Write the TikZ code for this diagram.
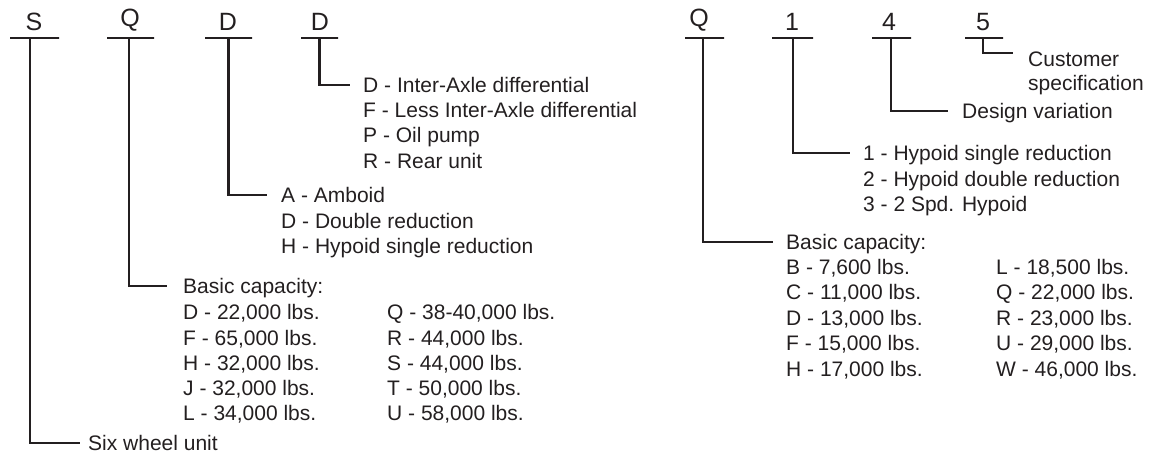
\documentclass[tikz,border=0pt]{standalone}
\usepackage{fontspec}
\setmainfont{Liberation Sans}
\definecolor{ink}{RGB}{35,31,32}
\begin{document}
\begin{tikzpicture}[x=1pt,y=-1pt,
  every node/.style={text=ink},
  txt/.style={anchor=west,inner sep=0pt,text height=15pt,text depth=0pt,font=\fontsize{21}{25}\selectfont},
  letter/.style={anchor=south,inner sep=0pt,font=\fontsize{25}{30}\selectfont},
  bar/.style={draw=ink,line width=2.3pt,inner sep=0pt,minimum height=0pt,text height=0pt,text depth=0pt},
  conn/.style={draw=ink,line width=2.3pt}]
\useasboundingbox (0,0) rectangle (1157,454);
% ---------- left code S Q D D
\node[letter] (lS) at (34,31) {S};
\node[bar,minimum width=49pt] (bS) at (34.5,38) {};
\node[letter] (lQ) at (130,31) {Q};
\node[bar,minimum width=47pt] (bQ) at (130.5,38) {};
\node[letter] (lD1) at (228,31) {D};
\node[bar,minimum width=47pt] (bD1) at (228.5,38) {};
\node[letter] (lD2) at (320,31) {D};
\node[bar,minimum width=37pt] (bD2) at (319.5,38) {};
% texts
\node[txt] (six) at (88,443) {Six wheel unit};
\node[txt] (bc1) at (183,286) {Basic capacity:};
\node[txt] at (183,312) {D - 22,000 lbs.};
\node[txt] at (183,337.5) {F - 65,000 lbs.};
\node[txt] at (183,363) {H - 32,000 lbs.};
\node[txt] at (183,388) {J - 32,000 lbs.};
\node[txt] at (183,413) {L - 34,000 lbs.};
\node[txt] at (387,312) {Q - 38-40,000 lbs.};
\node[txt] at (387,337.5) {R - 44,000 lbs.};
\node[txt] at (387,363) {S - 44,000 lbs.};
\node[txt] at (387,388) {T - 50,000 lbs.};
\node[txt] at (387,413) {U - 58,000 lbs.};
\node[txt] (amb) at (281,195) {A - Amboid};
\node[txt] at (281,221) {D - Double reduction};
\node[txt] at (281,246.5) {H - Hypoid single reduction};
\node[txt] (ia) at (363,85) {D - Inter-Axle differential};
\node[txt] at (363,110) {F - Less Inter-Axle differential};
\node[txt] at (363,135.5) {P - Oil pump};
\node[txt] at (363,161) {R - Rear unit};
% connectors
\draw[conn] ([xshift=-4.5pt]bS.center) |- ([xshift=-8pt]six.west);
\draw[conn] ([xshift=-1.5pt]bQ.center) |- ([xshift=-16pt]bc1.west);
\draw[conn] (bD1.center) |- ([xshift=-14pt]amb.west);
\draw[conn] (bD2.center) |- ([xshift=-13pt]ia.west);
% ---------- right code Q 1 4 5
\node[letter] (rQ) at (699,31) {Q};
\node[bar,minimum width=39pt] (bRQ) at (704.5,38) {};
\node[letter] (r1) at (792,31) {1};
\node[bar,minimum width=41pt] (bR1) at (792.5,38) {};
\node[letter] (r4) at (889,31) {4};
\node[bar,minimum width=39pt] (bR4) at (891.5,38) {};
\node[letter] (r5) at (983,31) {5};
\node[bar,minimum width=38pt] (bR5) at (984,38) {};
% texts
\node[txt] (cust) at (1028,59) {Customer};
\node[txt] at (1028,83) {specification};
\node[txt] (dv) at (962,111) {Design variation};
\node[txt] (h1) at (863,153) {1 - Hypoid single reduction};
\node[txt] at (863,179) {2 - Hypoid double reduction};
\node[txt] at (863,204.5) {3 - 2 Spd. Hypoid};
\node[txt] (bc2) at (786,242) {Basic capacity:};
\node[txt] at (786,267) {B - 7,600 lbs.};
\node[txt] at (786,292.5) {C - 11,000 lbs.};
\node[txt] at (786,318) {D - 13,000 lbs.};
\node[txt] at (786,343.5) {F - 15,000 lbs.};
\node[txt] at (786,369) {H - 17,000 lbs.};
\node[txt] at (996,267) {L - 18,500 lbs.};
\node[txt] at (996,292.5) {Q - 22,000 lbs.};
\node[txt] at (996,318) {R - 23,000 lbs.};
\node[txt] at (996,343.5) {U - 29,000 lbs.};
\node[txt] at (996,369) {W - 46,000 lbs.};
% connectors
\draw[conn] ([xshift=-1.5pt]bRQ.center) |- ([xshift=-13pt]bc2.west);
\draw[conn] ([xshift=0.5pt]bR1.center) |- ([xshift=-13pt]h1.west);
\draw[conn] ([xshift=-0.5pt]bR4.center) |- ([xshift=-14pt]dv.west);
\draw[conn] ([xshift=-1pt]bR5.center) |- ([xshift=-15pt,yshift=6pt]cust.west);
\end{tikzpicture}
\end{document}
